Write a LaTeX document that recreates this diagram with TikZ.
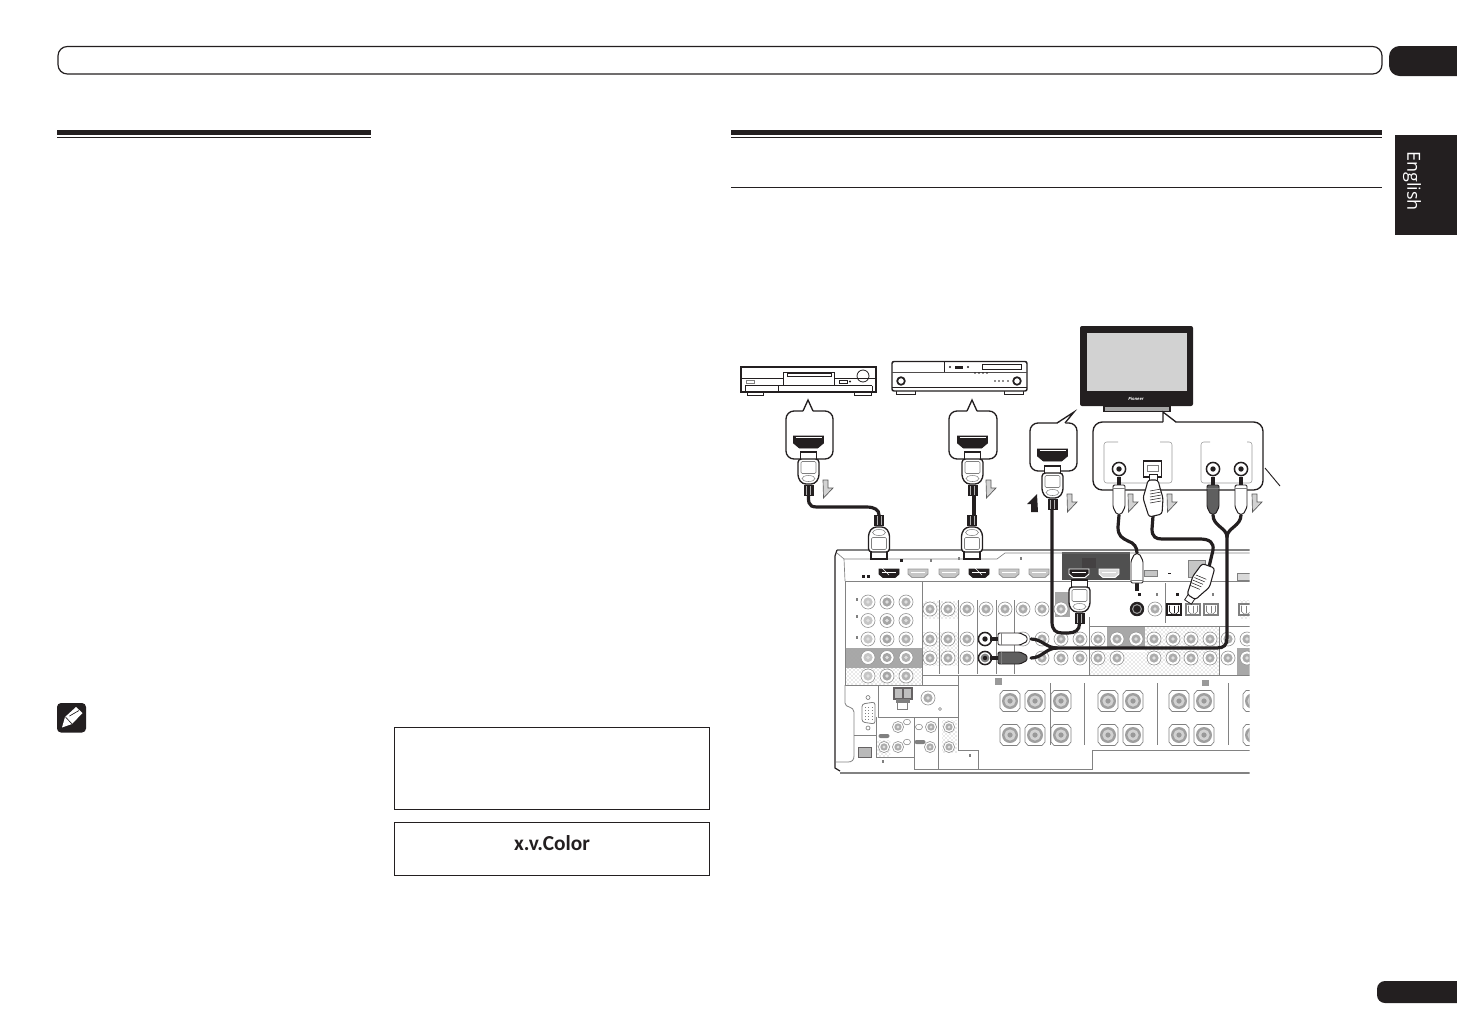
\documentclass[tikz,border=0pt]{standalone}
\usepackage{fontspec}
\setmainfont{Open Sans}
\newfontfamily\labelfont{Carlito}
\usepackage{xcolor}
\usetikzlibrary{patterns}
\definecolor{inkblack}{RGB}{35,31,32}
\definecolor{panelgray}{RGB}{168,168,168}
\definecolor{paneldark}{RGB}{80,80,80}
\definecolor{panelline}{RGB}{130,130,130}
\definecolor{plugdark}{RGB}{95,95,95}
\tikzset{
  rule/.style={inkblack,line width=0.75pt},
  bubble/.style={draw=inkblack,line width=1pt,fill=white},
  thinbox/.style={draw=gray!80,line width=0.4pt},
  cable/.style={inkblack,line width=2.4pt,line cap=round},
  panelrule/.style={panelline,line width=0.6pt},
  dotted area/.style={pattern=crosshatch dots,pattern color=gray!70},
  pics/hdmiplug/.style={code={
    \tikzset{yscale=-1}
    \draw[inkblack,fill=white,line width=0.8pt] (-8,0) rectangle (8,8);
    \draw[inkblack,fill=white,line width=1pt,rounded corners=2.5] (-10.5,7) -- (10.5,7) -- (10.5,26) -- (6,32) -- (-6,32) -- (-10.5,26) -- cycle;
    \draw[gray,line width=0.4pt,rounded corners=1] (-7.5,9.5) rectangle (7.5,21.5);
    \draw[gray,line width=0.4pt] (0,26.5) ellipse (6.5 and 3);
    \fill[inkblack] (-5,33) rectangle (5,44);
    \foreach \s in {-2,2} {\draw[gray!60,line width=0.6pt] (\s,34) -- (\s,43);}
  }},
  pics/rcaplug/.style={code={
    \tikzset{yscale=-1}
    \fill[inkblack] (-1.6,0) rectangle (1.6,9);
    \draw[inkblack,fill=#1,line width=0.7pt,rounded corners=1] (-6,8) -- (6,8) -- (6,30) -- (2.5,37) -- (-2.5,37) -- (-6,30) -- cycle;
    \draw[gray,line width=0.3pt] (-6,11) -- (6,11);
  }},
  pics/rcaplug/.default=white,
  pics/opticalplug/.style={code={
    \tikzset{yscale=-1}
    \draw[inkblack,fill=white,line width=0.6pt] (-4,0) rectangle (4,7);
    \draw[inkblack,fill=white,line width=0.8pt,rounded corners=2] (-5,6) -- (5,6) -- (7,14) -- (10,24) -- (9,40) -- (-4,43) -- (-10,24) -- (-7,14) -- cycle;
    \foreach \s in {17,20,23,26,29} {\draw[inkblack,line width=0.4pt] (-3,\s) -- (8,\s-2);}
  }},
  pics/flowarrow/.style={code={
    \tikzset{yscale=-1}
    \draw[gray!70!black,fill=gray!35,line width=0.5pt] (0,0) -- (5,0) -- (5,8) -- (10,8) -- (0.5,18) -- cycle;
  }},
  pics/hdmisocket/.style={code={
    \tikzset{yscale=-1}
    \draw[inkblack,fill=inkblack,line width=0.7pt] (-15,-6) -- (15,-6) -- (15,1) -- (9,6) -- (-9,6) -- (-15,1) -- cycle;
    \draw[white,line width=0.5pt] (-13,-4.5) -- (13,-4.5);
  }},
  pics/panelhdmi/.style 2 args={code={
    \tikzset{yscale=-1}
    \draw[#1,fill=#2,line width=0.7pt] (-10,-4) -- (10,-4) -- (10,1) -- (6,4.5) -- (-6,4.5) -- (-10,1) -- cycle;
    \draw[white,line width=0.4pt] (-7,-1) -- (7,-1);
  }},
  pics/paneljack/.style={code={
    \draw[gray!80,fill=white,line width=0.5pt] (0,0) circle (7);
    \fill[#1] (0,0) circle (4.6);
    \fill[white!75!gray] (0,0) circle (1.9);
  }},
  pics/paneljack/.default=gray!65,
  pics/blackjack/.style={code={
    \draw[inkblack,fill=white,line width=1.1pt] (0,0) circle (6.6);
    \fill[inkblack] (0,0) circle (2.7);
  }},
  pics/speakerpost/.style={code={
    \draw[gray,fill=white,line width=0.5pt] (-7,-10.5) -- (7,-10.5) -- (10,-7) -- (10,7) -- (7,10.5) -- (-7,10.5) -- (-10,7) -- (-10,-7) -- cycle;
    \fill[gray!75] (0,0) circle (8);
    \fill[gray!35] (0,0) circle (5.6);
    \fill[gray!80] (0,0) circle (2.6);
  }},
  pics/opticaljack/.style={code={
    \tikzset{yscale=-1}
    \draw[#1,fill=white,line width=0.8pt] (-7,-5.5) rectangle (7,5.5);
    \draw[#1,line width=0.5pt] (-4.5,-4) -- (-4.5,2) -- (-2,4.5) -- (2,4.5) -- (4.5,2) -- (4.5,-4);
    \draw[#1,line width=0.5pt] (0,-4) -- (0,3);
  }},
}
\begin{document}
\begin{tikzpicture}[x=0.75pt,y=0.75pt,yscale=-1,xscale=1]
\useasboundingbox (0,0) rectangle (1457,1032);

%Page furniture
\draw[inkblack,line width=0.9pt,rounded corners=7] (58,46.5) rectangle (1382,74);
\fill[inkblack] (1457,46) [rounded corners=8] -- (1389,46) -- (1389,76) [sharp corners] -- (1457,76) -- cycle;
\fill[inkblack] (57,130) rectangle (371,134.5);
\draw[rule] (57,137.5) -- (371,137.5);
\fill[inkblack] (731,130) rectangle (1382,134.5);
\draw[rule] (731,137.5) -- (1382,137.5);
\draw[rule] (731,187) -- (1382,187);
\fill[inkblack] (1395,135) rectangle (1457,235);
\fill[inkblack] (1457,981) [rounded corners=6] -- (1377,981) -- (1377,1003) [sharp corners] -- (1457,1003) -- cycle;
% Text Node
\node[white,rotate=-90,font=\fontsize{13.5}{16}\selectfont] (langtab) at (1412,181) {English};

%Pencil mark
\fill[inkblack,rounded corners=3] (57,703) rectangle (86,732.5);
\fill[white] (62,727.5) -- (65,717) -- (76,707) -- (82.5,713) -- (72,724) -- cycle;
\draw[inkblack,line width=0.5pt] (65.5,717) -- (72,724);
\draw[inkblack,line width=0.5pt] (69.5,716) -- (79,710.5);

%Shape: Rectangle
\draw[rule] (394.5,727.5) rectangle (709.5,809);
\draw[rule] (394.5,822.5) rectangle (709.5,875);
% Text Node
\node[inkblack,font=\labelfont\fontsize{16}{18}\bfseries\selectfont] (xvcolor) at (552,843) {x.v.Color};

%Disc player
\draw[inkblack,line width=0.7pt,fill=white] (747,391) rectangle (763,395.5);
\draw[inkblack,line width=0.7pt,fill=white] (854,391) rectangle (871,395.5);
\draw[inkblack,line width=0.9pt,fill=white] (741,367) rectangle (876,392);
\draw[inkblack,line width=0.6pt] (741,378) -- (783,378);
\draw[inkblack,line width=0.6pt] (834,378) -- (876,378);
\draw[inkblack,line width=0.9pt] (745,385.5) -- (872,385.5);
\draw[inkblack,line width=0.6pt] (778,385.5) -- (778,392);
\draw[inkblack,line width=0.6pt] (745,385.5) -- (745,392);
\draw[inkblack,line width=0.6pt] (872,385.5) -- (872,392);
\draw[inkblack,line width=0.6pt] (783,372) rectangle (834,385.5);
\draw[inkblack,line width=0.5pt] (787,373) rectangle (831,376);
\draw[inkblack,line width=0.6pt] (863,376) circle (6);
\draw[inkblack,line width=0.5pt] (839,380) rectangle (847,383);
\fill[inkblack] (850,381.5) circle (1.2);
\draw[gray,line width=0.5pt] (746,380) rectangle (754,383);

%Blu-ray player
\draw[inkblack,line width=0.7pt,fill=white] (896,390) rectangle (915,394.5);
\draw[inkblack,line width=0.7pt,fill=white] (1004,390) rectangle (1023,394.5);
\draw[inkblack,line width=1.1pt,fill=white,rounded corners=1.5] (892,361.5) rectangle (1027,391);
\fill[inkblack!80] (892,371.5) rectangle (1027,373);
\draw[inkblack,line width=0.6pt] (944,361.5) -- (944,372);
\draw[inkblack,line width=0.5pt] (982,364) rectangle (1021,369);
\draw[inkblack,line width=0.6pt] (892,387.5) -- (1027,387.5);
\foreach \x in {950,968} {\fill[inkblack] (\x,367) circle (1.1);}
\fill[inkblack] (955,366) rectangle (963,368.5);
\foreach \x in {975,979,983,987} {\fill[inkblack] (\x,373) circle (0.9);}
\draw[inkblack,line width=1.3pt] (901,381) circle (3.8);
\draw[inkblack,line width=1.3pt] (1017,381) circle (3.8);
\foreach \x in {995,999,1003,1008} {\fill[inkblack] (\x,381) circle (0.9);}

%Television
\fill[inkblack,rounded corners=1.5] (1080,326) rectangle (1193,406);
\fill[gray!35] (1087,332.5) rectangle (1187,391);
\draw[inkblack,fill=gray!70,line width=0.8pt] (1104,406) -- (1170,406) -- (1170,411.5) -- (1104,411.5) -- cycle;
% Text Node
\node[white,inner sep=0pt,font=\fontsize{3.2}{4}\bfseries\itshape\selectfont] (tvlogo) at (1136,398.5) {Pioneer};

%Receiver rear panel
\begin{scope}
\clip (830,540) rectangle (1249.5,780);
\fill[panelgray] (845,648) rectangle (922,668);
\path[dotted area] (845,648) rectangle (922,668);
\path[dotted area] (845,668) rectangle (922,685);
\path[dotted area] (922,601) rectangle (958,618);
\path[dotted area] (922,632) rectangle (958,665);
\path[dotted area] (1090,652) rectangle (1219,674);
\path[dotted area] (1145,626) rectangle (1219,652);
\fill[panelgray] (1107,626) rectangle (1145,647);
\fill[panelgray] (1055,592) rectangle (1070,617);
\fill[panelgray] (1237,648) rectangle (1250,675);
\fill[paneldark] (1062,552) rectangle (1130,580);
\fill[inkblack!85] (1082,558) rectangle (1096,568);
\path[dotted area] (942,720) rectangle (957,752);
\path[dotted area] (877,740) rectangle (890,757);
\path[dotted area] (1240,600) rectangle (1250,618);
\draw[gray,fill=gray!45,line width=0.5pt] (1188,560) rectangle (1205,577);
%Straight Lines
\draw[panelline,line width=0.9pt] (837,550) -- (1250,550);
\draw[panelline,line width=0.5pt] (837,553) -- (844,559) -- (845,581);
\draw[panelline,line width=0.5pt] (844,559) -- (987,559) -- (997,559) -- (1005,553) -- (1250,553);
\draw[inkblack,line width=0.9pt] (837,550) -- (835,556) -- (835,768) -- (840,771);
\draw[panelline,line width=1.5pt] (840,772.5) -- (1250,772.5);
\draw[panelrule] (845,581) -- (1250,581);
\draw[panelrule] (845,581) -- (845,685);
\draw[panelrule] (922,581) -- (922,685);
\draw[panelrule] (845,685) -- (958,685);
\draw[panelrule] (922,675) -- (1250,675);
\foreach \x in {939,958,977,996,1014} {\draw[panelrule] (\x,600) -- (\x,674);}
\draw[panelrule] (1089,617) -- (1089,675);
\draw[panelrule] (1089,626) -- (1250,626);
\draw[panelrule] (1165,583) -- (1165,623);
\draw[panelrule] (1219,626) -- (1219,675);
\draw[panelrule] (958,675) -- (958,750) -- (978,750) -- (978,769.5);
\draw[panelrule] (878,685) -- (878,717) -- (958,717);
\draw[panelrule] (876,717) -- (876,757) -- (914,757);
\draw[panelrule] (914,717) -- (914,769.5);
\draw[panelrule] (938,717) -- (938,769.5);
\draw[panelrule] (914,769.5) -- (1092,769.5) -- (1092,750) -- (1250,750);
\draw[panelrule] (845,685) -- (845,703) .. controls (845,708) and (854,706) .. (854,712) -- (854,756) .. controls (854,760) and (852,762) .. (848,762) -- (836,762);
\draw[panelrule] (854,735) -- (876,735);
\foreach \x in {1050,1084,1157,1228} {\draw[panelrule] (\x,683) -- (\x,745);}
%HDMI row
\foreach \x in {918,949,1009,1039} {\pic at (\x,573) {panelhdmi={gray!80}{gray!45}};}
\pic at (1109,573) {panelhdmi={white}{gray!30}};
\pic at (889,573) {panelhdmi={inkblack}{inkblack}};
\pic at (979,573) {panelhdmi={inkblack}{inkblack}};
\pic at (1079,573) {panelhdmi={white}{inkblack}};
\draw[gray,fill=gray!45,line width=0.5pt] (1144,570) rectangle (1157,576);
\fill[inkblack] (1168,573) rectangle (1170.5,574);
%Square marks
\foreach \x/\y in {901/560,1139/594,1177/594,863/576,868/576} {\fill[inkblack] (\x-1.5,\y-1.5) rectangle (\x+1.5,\y+1.5);}
\foreach \x/\y in {931/560,959/558,1021/558,1157/594,1213/594,857/599,857/616,857/637,883/761,970/755} {\fill[gray] (\x-1.3,\y-1.5) rectangle (\x+1.3,\y+1.5);}
\fill[gray!80] (995,678) rectangle (1002,685);
\fill[gray!80] (1202,680) rectangle (1209,686);
\draw[gray,fill=gray!30,line width=0.5pt] (1237,573) rectangle (1250,580);
%Round jacks
\foreach \y in {602,620.5,639,657.5,676} {
  \foreach \x/\c in {868/gray!45,887/gray!70,906/gray!60} {\pic at (\x,\y) {paneljack=\c};}
}
\foreach \x in {930,948,967,986,1005,1023,1042,1061} {\pic at (\x,609) {paneljack};}
\foreach \x in {930,948,967,1023,1042,1061,1080,1098,1117,1136,1154,1173,1191,1210,1228,1247} {\pic at (\x,639) {paneljack};}
\foreach \x in {930,948,967,1042,1061,1080,1098,1117,1154,1173,1191,1210,1228,1247} {\pic at (\x,658) {paneljack};}
\pic at (1155,609) {paneljack};
\draw[inkblack,fill=inkblack,line width=0.6pt] (1137,609) circle (6.8);
\draw[gray!80,line width=0.8pt] (1137,609) circle (4.4);
\fill[inkblack] (1137,609) circle (2);
\pic at (985,639) {blackjack};
\draw[inkblack,fill=white,line width=1.1pt] (985,658) circle (6.6);
\fill[gray] (985,658) circle (4.4);
\fill[inkblack] (985,658) circle (2.2);
%Optical sockets
\pic at (1174,609.5) {opticaljack=inkblack};
\pic at (1193,609.5) {opticaljack=gray};
\pic at (1211,609.5) {opticaljack=gray};
\pic at (1246,609.5) {opticaljack=gray};
%Speaker posts
\foreach \x in {1010,1035,1061,1108,1133,1179,1204,1253} {
  \foreach \y in {701,735} {\pic at (\x,\y) {speakerpost};}
}
%Lower left group
\draw[gray,fill=white,line width=0.6pt,rounded corners=2] (862,704) -- (875,702) -- (875,724) -- (862,722) -- cycle;
\foreach \y in {707,710,713,716,719} {\draw[gray,line width=0.6pt,dotted] (865,\y) -- (872,\y);}
\draw[gray,line width=0.5pt] (868,697.5) circle (2);
\draw[gray,line width=0.5pt] (868,728) circle (2);
\draw[inkblack!70,fill=gray!50,line width=0.8pt] (894,688) rectangle (903,699);
\draw[inkblack!70,fill=gray!50,line width=0.8pt] (903,688) rectangle (912,699);
\fill[gray] (896,699) rectangle (910,703);
\draw[gray,line width=0.5pt] (897,703) -- (897,709) -- (907,709) -- (907,703);
\pic at (928,698) {paneljack};
\draw[gray,line width=0.4pt] (940,709) circle (1.5);
\foreach \x/\y in {898/727,884/747,898/747,931/727,930/747,949/727,949/747} {\pic[scale=0.8] at (\x,\y) {paneljack};}
\foreach \x/\y in {907/722,907/742,919/727} {\draw[gray,line width=0.4pt] (\x,\y) ellipse (3.5 and 2.8);}
\fill[gray,rounded corners=1.5] (878.5,734) rectangle (889.5,738);
\fill[gray,rounded corners=1.5] (914.5,740) rectangle (925.5,744);
\draw[inkblack!70,fill=gray!55,line width=0.6pt] (858,747) rectangle (871,757);
\end{scope}

%Cable ends
\coordinate (dvdout) at (808.5,496);
\coordinate (dvdin) at (879,515);
\coordinate (bdout) at (974,496);
\coordinate (bdin) at (974,515);
\coordinate (tvhdmi) at (1052,509);
\coordinate (ampout) at (1079.5,624);
\coordinate (tvvideo) at (1119,515);
\coordinate (ampvideo) at (1137,553);
\coordinate (tvoptical) at (1153,516);
\coordinate (ampoptical) at (1209,567);
\coordinate (tvleft) at (1213,515);
\coordinate (tvright) at (1241,515);
\coordinate (audiosplit) at (1227,537);
\coordinate (panelsplit) at (1057,648);
\coordinate (ampleft) at (1031,639);
\coordinate (ampright) at (1031,658);

%Shape: Speech bubbles
\draw[bubble,rounded corners=6] (786,411) rectangle (833,459);
\fill[white] (803,412) -- (808,400) -- (813,412) -- cycle;
\draw[inkblack,line width=1pt] (803,411) -- (808,400) -- (813,411);
\draw[bubble,rounded corners=6] (949,411) rectangle (997,459);
\fill[white] (967,412) -- (972,400) -- (977,412) -- cycle;
\draw[inkblack,line width=1pt] (967,411) -- (972,400) -- (977,411);
\draw[bubble,rounded corners=6] (1030,423) rectangle (1077,471);
\fill[white] (1057,424) -- (1074,412) -- (1065,424) -- cycle;
\draw[inkblack,line width=1pt] (1057,423) -- (1074,412) -- (1065,423);
\draw[bubble,rounded corners=7] (1093,422) rectangle (1263,490);
\fill[white] (1163,423) -- (1163,412) -- (1176,423) -- cycle;
\draw[inkblack,line width=1pt] (1163,422) -- (1163,412) -- (1176,422);
\draw[inkblack,line width=0.7pt] (1265,468) -- (1280,486);
%Bubble inner frames
\draw[thinbox,rounded corners=2] (1118,442) -- (1104,442) -- (1104,483) -- (1172,483) -- (1172,442) -- (1160,442);
\draw[thinbox,rounded corners=2] (1210,442) -- (1201,442) -- (1201,483) -- (1252,483) -- (1252,442) -- (1247,442);

%Sockets in the bubbles
\pic at (808.5,442) {hdmisocket};
\pic at (972.5,442) {hdmisocket};
\pic at (1052.5,455) {hdmisocket};
\pic at (1119,469) {blackjack};
\pic at (1213,469) {blackjack};
\pic at (1241,469) {blackjack};
\draw[inkblack,fill=white,line width=1.2pt] (1143.5,461) rectangle (1161.5,477);
\draw[gray,line width=0.5pt] (1147,465) -- (1158,465) -- (1158,471) -- (1147,471) -- cycle;

%Straight Lines
\draw[cable] (dvdout) .. controls (808,508) and (812,507) .. (824,507) -- (866,507) .. controls (875,507) and (879,510) .. (dvdin);
\draw[cable] (bdout) -- (bdin);
\draw[cable] (tvhdmi) -- (1052,622) .. controls (1052,630) and (1056,633) .. (1062,633) -- (1068,633) .. controls (1075,633) and (1079.5,630) .. (ampout);
\draw[cable] (tvvideo) -- (1118,527) .. controls (1118,536) and (1122,538) .. (1128,541) .. controls (1134,543) and (1137,547) .. (ampvideo);
\draw[cable] (tvoptical) -- (1152,529) .. controls (1152,537) and (1156,539) .. (1162,539) -- (1200,539) .. controls (1210,539) and (1214,543) .. (1213,550) -- (ampoptical);
\draw[cable] (tvleft) .. controls (1213,526) and (1227,528) .. (audiosplit);
\draw[cable] (tvright) .. controls (1241,526) and (1227,528) .. (audiosplit);
\draw[cable] (audiosplit) -- (1227,638) .. controls (1227,645) and (1224,648) .. (1217,648) -- (panelsplit);
\draw[cable] (panelsplit) .. controls (1046,648) and (1042,639) .. (ampleft);
\draw[cable] (panelsplit) .. controls (1046,648) and (1042,658) .. (ampright);

%HDMI plugs
\pic at (808.5,452) {hdmiplug};
\pic at (972.5,452) {hdmiplug};
\pic at (1052.5,466) {hdmiplug};
\pic at (1079.5,580) {hdmiplug};
\pic[rotate=180] at (879,559) {hdmiplug};
\pic[rotate=180] at (972,559) {hdmiplug};
\draw[white,line width=0.5pt] (880,566) -- (889,575);
\draw[white,line width=0.5pt] (973,566) -- (982,575);

%RCA plugs
\pic at (1119,477) {rcaplug};
\pic at (1213,477) {rcaplug=plugdark};
\pic at (1241,477) {rcaplug};
\pic[rotate=180] at (1137,591) {rcaplug};
\pic[rotate=90] at (990,639) {rcaplug};
\pic[rotate=90] at (990,658) {rcaplug=plugdark};

%Optical plugs
\pic at (1153,474) {opticalplug};
\pic[rotate=147] at (1188,602) {opticalplug};

%Flow arrows
\pic at (823,480) {flowarrow};
\pic at (986,480) {flowarrow};
\pic at (1067,494) {flowarrow};
\pic at (1128,494) {flowarrow};
\pic at (1167,494) {flowarrow};
\pic at (1252,494) {flowarrow};
\fill[inkblack] (1027,504) -- (1037,494) -- (1038,512) -- (1031,512) -- (1031,504) -- cycle;

\end{tikzpicture}
\end{document}
